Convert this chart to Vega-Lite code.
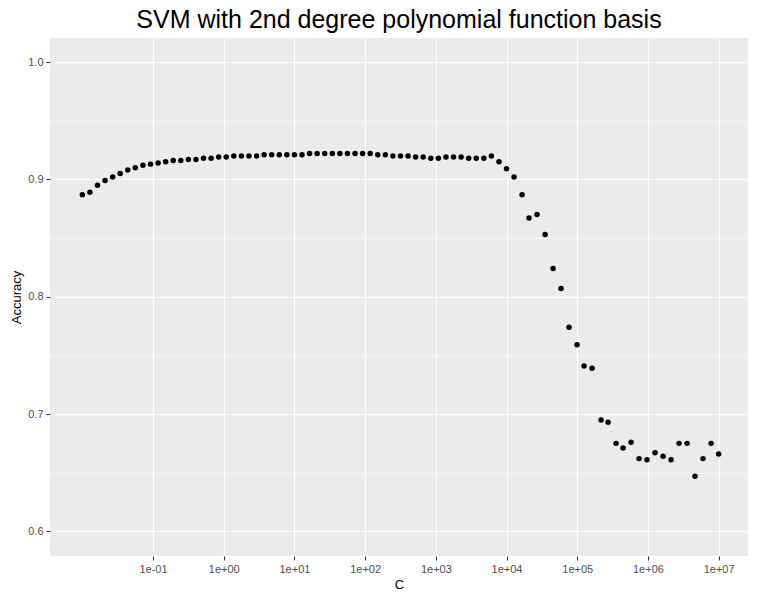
{
  "$schema": "https://vega.github.io/schema/vega-lite/v6.json",
  "width": 698,
  "height": 518,
  "autosize": "none",
  "padding": {"left": 50, "top": 38, "right": 10, "bottom": 40},
  "background": "white",
  "title": {"text": "SVM with 2nd degree polynomial function basis", "fontSize": 25, "font": "Liberation Sans", "fontWeight": "normal", "color": "black", "offset": 5},
  "data": {"values": [
    {"C": 0.01, "Accuracy": 0.887}, {"C": 0.012797, "Accuracy": 0.889}, {"C": 0.016378, "Accuracy": 0.895},
    {"C": 0.020959, "Accuracy": 0.899}, {"C": 0.026827, "Accuracy": 0.902}, {"C": 0.034333, "Accuracy": 0.905},
    {"C": 0.043939, "Accuracy": 0.908}, {"C": 0.056234, "Accuracy": 0.910}, {"C": 0.071969, "Accuracy": 0.912},
    {"C": 0.092106, "Accuracy": 0.913}, {"C": 0.11788, "Accuracy": 0.914}, {"C": 0.15086, "Accuracy": 0.915},
    {"C": 0.19307, "Accuracy": 0.916}, {"C": 0.24709, "Accuracy": 0.916}, {"C": 0.31623, "Accuracy": 0.917},
    {"C": 0.40471, "Accuracy": 0.917}, {"C": 0.51795, "Accuracy": 0.918}, {"C": 0.66289, "Accuracy": 0.918},
    {"C": 0.84834, "Accuracy": 0.919}, {"C": 1.0857, "Accuracy": 0.919}, {"C": 1.3895, "Accuracy": 0.920},
    {"C": 1.7783, "Accuracy": 0.920}, {"C": 2.2758, "Accuracy": 0.920}, {"C": 2.9126, "Accuracy": 0.920},
    {"C": 3.7276, "Accuracy": 0.921}, {"C": 4.7705, "Accuracy": 0.921}, {"C": 6.1054, "Accuracy": 0.921},
    {"C": 7.8137, "Accuracy": 0.921}, {"C": 10, "Accuracy": 0.921}, {"C": 12.797, "Accuracy": 0.921},
    {"C": 16.378, "Accuracy": 0.922}, {"C": 20.959, "Accuracy": 0.922}, {"C": 26.827, "Accuracy": 0.922},
    {"C": 34.333, "Accuracy": 0.922}, {"C": 43.939, "Accuracy": 0.922}, {"C": 56.234, "Accuracy": 0.922},
    {"C": 71.969, "Accuracy": 0.922}, {"C": 92.106, "Accuracy": 0.922}, {"C": 117.88, "Accuracy": 0.922},
    {"C": 150.86, "Accuracy": 0.921}, {"C": 193.07, "Accuracy": 0.921}, {"C": 247.09, "Accuracy": 0.920},
    {"C": 316.23, "Accuracy": 0.920}, {"C": 404.71, "Accuracy": 0.920}, {"C": 517.95, "Accuracy": 0.919},
    {"C": 662.89, "Accuracy": 0.919}, {"C": 848.34, "Accuracy": 0.918}, {"C": 1085.7, "Accuracy": 0.918},
    {"C": 1389.5, "Accuracy": 0.919}, {"C": 1778.3, "Accuracy": 0.919}, {"C": 2275.8, "Accuracy": 0.919},
    {"C": 2912.6, "Accuracy": 0.918}, {"C": 3727.6, "Accuracy": 0.918}, {"C": 4770.5, "Accuracy": 0.918},
    {"C": 6105.4, "Accuracy": 0.920}, {"C": 7813.7, "Accuracy": 0.915}, {"C": 10000, "Accuracy": 0.909},
    {"C": 12770, "Accuracy": 0.902}, {"C": 16560, "Accuracy": 0.887}, {"C": 20800, "Accuracy": 0.867},
    {"C": 26980, "Accuracy": 0.870}, {"C": 35060, "Accuracy": 0.853}, {"C": 45500, "Accuracy": 0.824},
    {"C": 59000, "Accuracy": 0.807}, {"C": 76560, "Accuracy": 0.774}, {"C": 99350, "Accuracy": 0.759},
    {"C": 124800, "Accuracy": 0.741}, {"C": 161900, "Accuracy": 0.739}, {"C": 217200, "Accuracy": 0.695},
    {"C": 272800, "Accuracy": 0.693}, {"C": 354000, "Accuracy": 0.675}, {"C": 444700, "Accuracy": 0.671},
    {"C": 576800, "Accuracy": 0.676}, {"C": 748200, "Accuracy": 0.662}, {"C": 970800, "Accuracy": 0.661},
    {"C": 1259000, "Accuracy": 0.667}, {"C": 1637000, "Accuracy": 0.664}, {"C": 2123000, "Accuracy": 0.661},
    {"C": 2754000, "Accuracy": 0.675}, {"C": 3573000, "Accuracy": 0.675}, {"C": 4634000, "Accuracy": 0.647},
    {"C": 6012000, "Accuracy": 0.662}, {"C": 7816000, "Accuracy": 0.675}, {"C": 10000000, "Accuracy": 0.666}
  ]},
  "mark": {"type": "circle", "size": 30, "color": "black", "opacity": 1},
  "encoding": {
    "x": {
      "field": "C", "type": "quantitative",
      "scale": {"type": "log", "domain": [0.00349, 26000000], "nice": false},
      "axis": {
        "values": [0.1, 1, 10, 100, 1000, 10000, 100000, 1000000, 10000000],
        "labelExpr": "'1e' + (round(log(datum.value)/LN10) < 0 ? '-' : '+') + (abs(round(log(datum.value)/LN10)) < 10 ? '0' : '') + abs(round(log(datum.value)/LN10))",
        "title": "C"
      }
    },
    "y": {
      "field": "Accuracy", "type": "quantitative",
      "scale": {"domain": [0.579, 1.0205], "nice": false, "zero": false},
      "axis": {
        "values": [0.6, 0.65, 0.7, 0.75, 0.8, 0.85, 0.9, 0.95, 1.0],
        "labelExpr": "abs(datum.value*10 - round(datum.value*10)) < 0.001 ? format(datum.value, '.1f') : ''",
        "gridWidth": {"condition": {"test": "abs(datum.value*10 - round(datum.value*10)) < 0.001", "value": 1.1}, "value": 0.5},
        "tickOpacity": {"condition": {"test": "abs(datum.value*10 - round(datum.value*10)) < 0.001", "value": 1}, "value": 0},
        "title": "Accuracy"
      }
    }
  },
  "config": {
    "font": "Liberation Sans",
    "view": {"fill": "#EBEBEB", "stroke": null},
    "axis": {
      "domain": false,
      "grid": true,
      "gridColor": "white",
      "gridWidth": 1.1,
      "tickColor": "#333333",
      "tickSize": 4,
      "labelColor": "#4D4D4D",
      "labelFontSize": 11,
      "labelPadding": 3,
      "titleFontSize": 13,
      "titleFontWeight": "normal",
      "titleColor": "black",
      "titlePadding": 4
    }
  }
}
